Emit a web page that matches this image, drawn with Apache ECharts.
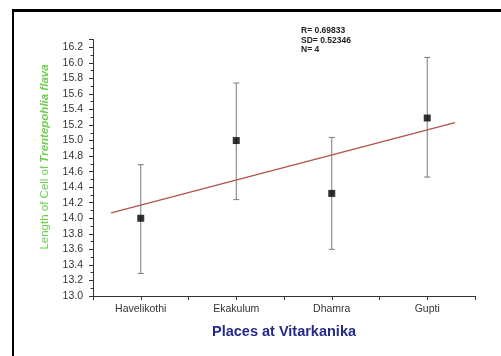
<!DOCTYPE html>
<html><head><meta charset="utf-8">
<script src="https://cdn.jsdelivr.net/npm/echarts@6/dist/echarts.min.js"></script>
<style>html,body{margin:0;padding:0;background:#fff}#c{width:501px;height:356px}</style>
</head><body><div id="c"></div>
<script>
var places = ['Havelikothi', 'Ekakulum', 'Dhamra', 'Gupti'];
var positions = [1, 2, 3, 4];
var means = [14.0, 15.0, 14.32, 15.29];
var errLow = [13.29, 14.24, 13.60, 14.53];
var errHigh = [14.69, 15.74, 15.04, 16.07];
var fitX = [0.69, 4.29];
var fitY = [14.07, 15.23];
var statLines = ['R= 0.69833', 'SD= 0.52346', 'N= 4'];
var yTitleA = 'Length of Cell of ';
var yTitleB = 'Trentepohlia flava';
var xTitle = 'Places at Vitarkanika';

var chart = echarts.init(document.getElementById('c'), null, {renderer: 'canvas'});
var pts = positions.map(function (x, i) { return [x, means[i]]; });
var errs = positions.map(function (x, i) { return [x, errLow[i], errHigh[i]]; });
var fit = fitX.map(function (x, i) { return [x, fitY[i]]; });

chart.setOption({
  animation: false,
  backgroundColor: '#fff',
  grid: {left: 93, right: 26, top: 39.5, bottom: 60},
  xAxis: {
    type: 'value', min: 0.5, max: 4.5, interval: 0.5,
    name: xTitle, nameLocation: 'middle', nameGap: 28,
    nameTextStyle: {color: '#262a8a', fontWeight: 'bold', fontSize: 14.5, fontFamily: 'Liberation Sans'},
    axisLine: {lineStyle: {color: '#333', width: 1}},
    axisTick: {length: 4, lineStyle: {color: '#333'}},
    splitLine: {show: false},
    axisLabel: {
      color: '#333', fontSize: 10.5, fontFamily: 'Liberation Sans', margin: 8, showMinLabel: true, showMaxLabel: true,
      formatter: function (v) { var i = positions.indexOf(v); return i >= 0 ? places[i] : ''; }
    }
  },
  yAxis: {
    type: 'value', min: 13.0, max: 16.3, interval: 0.2,
    axisLine: {show: true, lineStyle: {color: '#333', width: 1}},
    axisTick: {show: true, length: 4, lineStyle: {color: '#333'}},
    minorTick: {show: true, splitNumber: 2, length: 2.5, lineStyle: {color: '#333'}},
    splitLine: {show: false},
    axisLabel: {
      color: '#333', fontSize: 10.5, fontFamily: 'Liberation Sans', margin: 10,
      showMaxLabel: false,
      formatter: function (v) { return Math.abs(v - 16.3) < 1e-6 ? '' : v.toFixed(1); }
    }
  },
  series: [
    {
      type: 'line', data: fit, showSymbol: false, symbol: 'none',
      lineStyle: {color: '#b0524a', width: 1.2}, z: 2
    },
    {
      type: 'custom', data: errs, z: 3,
      renderItem: function (params, api) {
        var x = api.value(0);
        var lo = api.coord([x, api.value(1)]);
        var hi = api.coord([x, api.value(2)]);
        var w = 3;
        var st = {stroke: '#7a7a7a', lineWidth: 1};
        return {type: 'group', children: [
          {type: 'line', shape: {x1: lo[0], y1: lo[1], x2: hi[0], y2: hi[1]}, style: st},
          {type: 'line', shape: {x1: lo[0] - w, y1: lo[1], x2: lo[0] + w, y2: lo[1]}, style: st},
          {type: 'line', shape: {x1: hi[0] - w, y1: hi[1], x2: hi[0] + w, y2: hi[1]}, style: st}
        ]};
      }
    },
    {
      type: 'scatter', data: pts, symbol: 'rect', symbolSize: 7,
      itemStyle: {color: '#000'}, z: 4
    }
  ],
  graphic: [
    {type: 'rect', shape: {x: 12, y: 9, width: 489, height: 3}, style: {fill: '#000'}},
    {type: 'rect', shape: {x: 12, y: 9, width: 2, height: 347}, style: {fill: '#000'}},
    {type: 'text', left: 301, top: 26, style: {text: statLines.join('\n'), fill: '#222', font: 'bold 8.5px Liberation Sans', lineHeight: 9.5}},
    {type: 'text', x: 45, y: 157, rotation: Math.PI / 2,
      style: {
        text: '{a|' + yTitleA + '}{b|' + yTitleB + '}', align: 'center', verticalAlign: 'middle',
        rich: {
          a: {fill: '#6cd04e', fontSize: 11.5, fontFamily: 'Liberation Sans'},
          b: {fill: '#6cd04e', fontSize: 11.5, fontFamily: 'Liberation Sans', fontStyle: 'italic', fontWeight: 'bold'}
        }
      }
    }
  ]
});
</script></body></html>
